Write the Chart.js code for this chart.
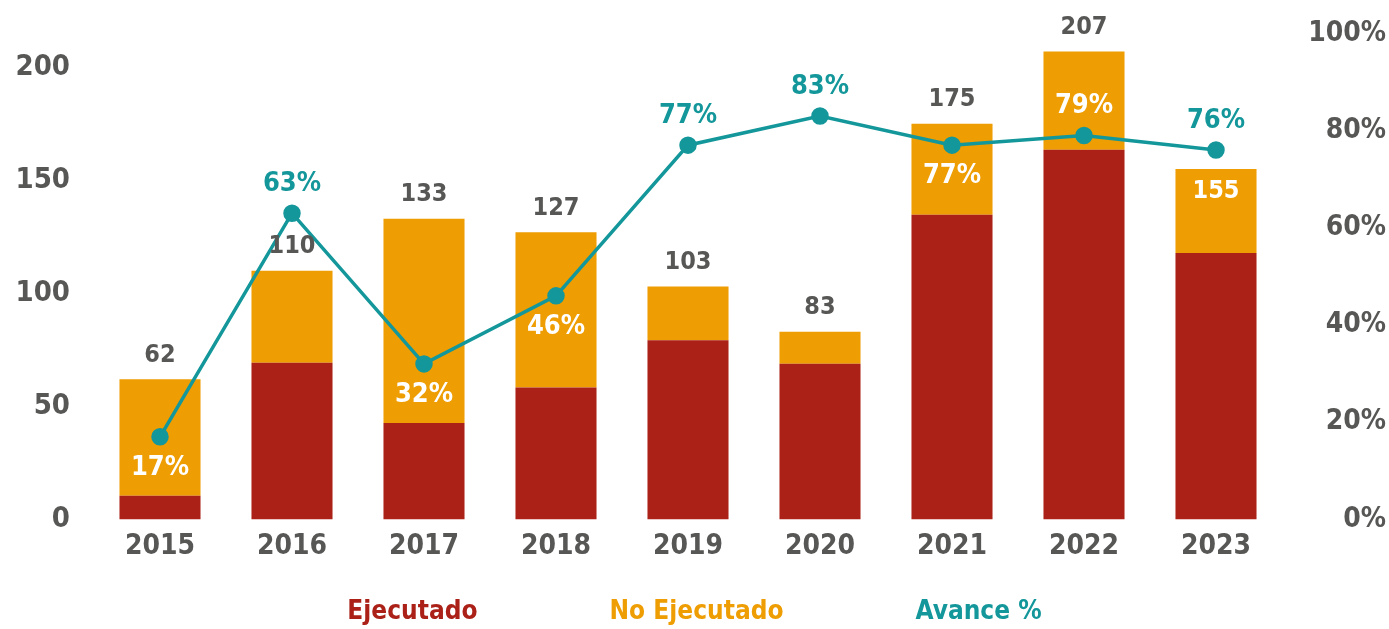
<!DOCTYPE html>
<html>
<head>
<meta charset="utf-8">
<script src="https://cdn.jsdelivr.net/npm/chart.js@4.4.1/dist/chart.umd.min.js"></script>
<style>
  html, body { margin: 0; padding: 0; background: #fff; }
  #wrap { width: 1389px; height: 629px; }
</style>
</head>
<body>
<div id="wrap"><canvas id="avanceChart"></canvas></div>
<script>
var years = ["2015", "2016", "2017", "2018", "2019", "2020", "2021", "2022", "2023"];
var ejecutado = [10.5, 69.3, 42.6, 58.4, 79.3, 68.9, 134.8, 163.5, 117.8];
var noEjecutado = [51.5, 40.7, 90.4, 68.6, 23.7, 14.1, 40.2, 43.5, 37.2];
var totales = [62, 110, 133, 127, 103, 83, 175, 207, 155];
var avance = [17, 63, 32, 46, 77, 83, 77, 79, 76];
var ticksIzq = [0, 50, 100, 150, 200];

var rojo = "#AB2118";
var naranja = "#EE9D02";
var teal = "#14979A";
var gris = "#575756";
var fuente = '"DejaVu Sans Condensed", "Liberation Sans Narrow", sans-serif';

// where each % label goes (above / below the point) and if it is white
var pctArriba = [false, true, false, false, true, true, false, true, true];
var pctBlanco = [true, false, true, true, false, false, true, true, false];

var etiquetas = {
  id: "etiquetas",
  afterDatasetsDraw: function (chart) {
    var ctx = chart.ctx;
    var barras = chart.getDatasetMeta(1).data;
    var puntos = chart.getDatasetMeta(2).data;
    ctx.save();
    ctx.textAlign = "center";
    ctx.textBaseline = "middle";
    ctx.font = "bold 25px " + fuente;
    totales.forEach(function (t, i) {
      var b = barras[i];
      var dentro = i === totales.length - 1;
      ctx.fillStyle = dentro ? "#fff" : gris;
      ctx.fillText(t, b.x, dentro ? b.y + 22 : b.y - 24);
    });
    ctx.font = "bold 27px " + fuente;
    avance.forEach(function (p, i) {
      var pt = puntos[i];
      ctx.fillStyle = pctBlanco[i] ? "#fff" : teal;
      ctx.fillText(p + "%", pt.x, pt.y + (pctArriba[i] ? -29 : 31));
    });
    ctx.restore();
  },
  afterDraw: function (chart) {
    // text-only legend under the chart
    var ctx = chart.ctx;
    var gap = 132;
    ctx.save();
    ctx.font = "bold 26px " + fuente;
    ctx.textBaseline = "middle";
    ctx.textAlign = "left";
    var items = chart.data.datasets.map(function (d) {
      return { text: d.label, color: d.legendColor, w: ctx.measureText(d.label).width };
    });
    var total = items.reduce(function (s, it) { return s + it.w; }, 0) + gap * (items.length - 1);
    var x = (chart.width - total) / 2;
    items.forEach(function (it) {
      ctx.fillStyle = it.color;
      ctx.fillText(it.text, x, 612);
      x += it.w + gap;
    });
    ctx.restore();
  }
};

var ctx = document.getElementById("avanceChart").getContext("2d");
var myChart = new Chart(ctx, {
  type: "bar",
  data: {
    labels: years,
    datasets: [
      {
        label: "Ejecutado",
        data: ejecutado,
        backgroundColor: rojo,
        legendColor: rojo,
        yAxisID: "y",
        order: 1,
        barPercentage: 0.614,
        categoryPercentage: 1,
      },
      {
        label: "No Ejecutado",
        data: noEjecutado,
        backgroundColor: naranja,
        legendColor: naranja,
        yAxisID: "y",
        order: 2,
        barPercentage: 0.614,
        categoryPercentage: 1,
      },
      {
        type: "line",
        label: "Avance %",
        data: avance,
        borderColor: teal,
        backgroundColor: teal,
        legendColor: teal,
        borderWidth: 3.5,
        pointRadius: 7,
        pointHoverRadius: 7,
        tension: 0,
        yAxisID: "y1",
        order: 0,
      },
    ],
  },
  plugins: [etiquetas],
  options: {
    responsive: true,
    maintainAspectRatio: false,
    animation: false,
    layout: { padding: { top: 11, bottom: 62, left: 0, right: 3 } },
    plugins: {
      legend: { display: false },
      tooltip: { enabled: false },
    },
    scales: {
      x: {
        stacked: true,
        grid: { display: false },
        border: { display: false },
        ticks: { color: gris, font: { family: fuente, size: 28, weight: "bold" }, padding: 3 },
      },
      y: {
        stacked: true,
        position: "left",
        min: 0,
        max: 215,
        grid: { display: false },
        border: { display: false },
        ticks: { color: gris, font: { family: fuente, size: 29, weight: "bold" }, padding: 16 },
        afterBuildTicks: function (axis) {
          axis.ticks = ticksIzq.map(function (v) { return { value: v }; });
        },
        afterFit: function (axis) { axis.width = 94; },
      },
      y1: {
        position: "right",
        min: 0,
        max: 100,
        grid: { display: false },
        border: { display: false },
        ticks: {
          stepSize: 20,
          color: gris,
          crossAlign: "far",
          font: { family: fuente, size: 28, weight: "bold" },
          callback: function (v) { return v + "%"; },
        },
        afterFit: function (axis) { axis.width = 104; },
      },
    },
  },
});
</script>
</body>
</html>
